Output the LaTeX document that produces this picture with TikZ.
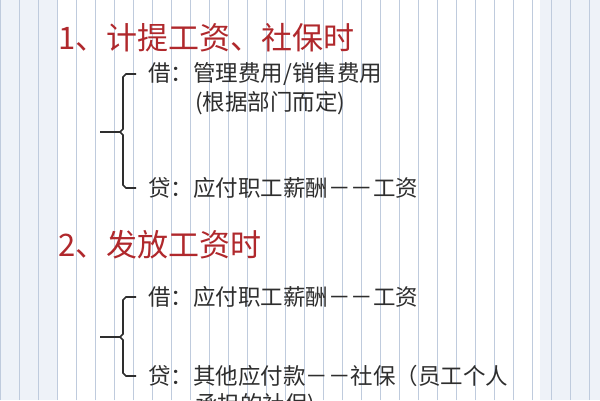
\documentclass[tikz,border=0pt]{standalone}
\usepackage{fontspec}
\newfontfamily\cjk{Noto Sans CJK SC}
\definecolor{ttl}{HTML}{B0282C}
\definecolor{txt}{HTML}{2E2E2E}
\definecolor{gridc}{HTML}{BFCBDD}
\definecolor{outbg}{HTML}{EEF2F8}
\begin{document}
\begin{tikzpicture}[x=1pt,y=-1pt,
  title/.style={anchor=west,inner sep=0,text=ttl,font=\cjk\fontsize{31}{33}\selectfont},
  body/.style={anchor=west,inner sep=0,text=txt,font=\cjk\fontsize{22.5}{25}\selectfont},
  brace/.style={draw=txt,line width=1.6pt}]
\useasboundingbox (0,0) rectangle (600,400);
\fill[outbg] (0,0) rectangle (600,400);
\draw[gridc,line width=0.7pt,step=19] (0,0) grid (600,400);
\fill[white] (58,0) rectangle (540,400);
\draw[gridc,line width=0.7pt,step=19] (58,0) grid (540,400);
\node[title] (t1) at (58,38) {1、计提工资、社保时};
\node[body] (d1) at (148,74) {借：管理费用/销售费用};
\node[body] (d1b) at (195,103) {(根据部门而定)};
\node[body] (c1) at (148,188) {贷：应付职工薪酬－－工资};
\node[title] (t2) at (58,245) {2、发放工资时};
\node[body] (d2) at (148,297) {借：应付职工薪酬－－工资};
\node[body] (c2) at (148,376) {贷：其他应付款－－社保（员工个人};
\node[body] (c2b) at (195,405) {承担的社保)};
\draw[brace] (136,74) -- (126,74) -- (123,77) -- (123,129) -- (120,132) -- (100,132);
\draw[brace] (120,132) -- (123,135) -- (123,185) -- (126,188) -- (136,188);
\draw[brace] (136,297) -- (126,297) -- (123,300) -- (123,334) -- (120,337) -- (100,337);
\draw[brace] (120,337) -- (123,340) -- (123,373) -- (126,376) -- (136,376);
\end{tikzpicture}
\end{document}
